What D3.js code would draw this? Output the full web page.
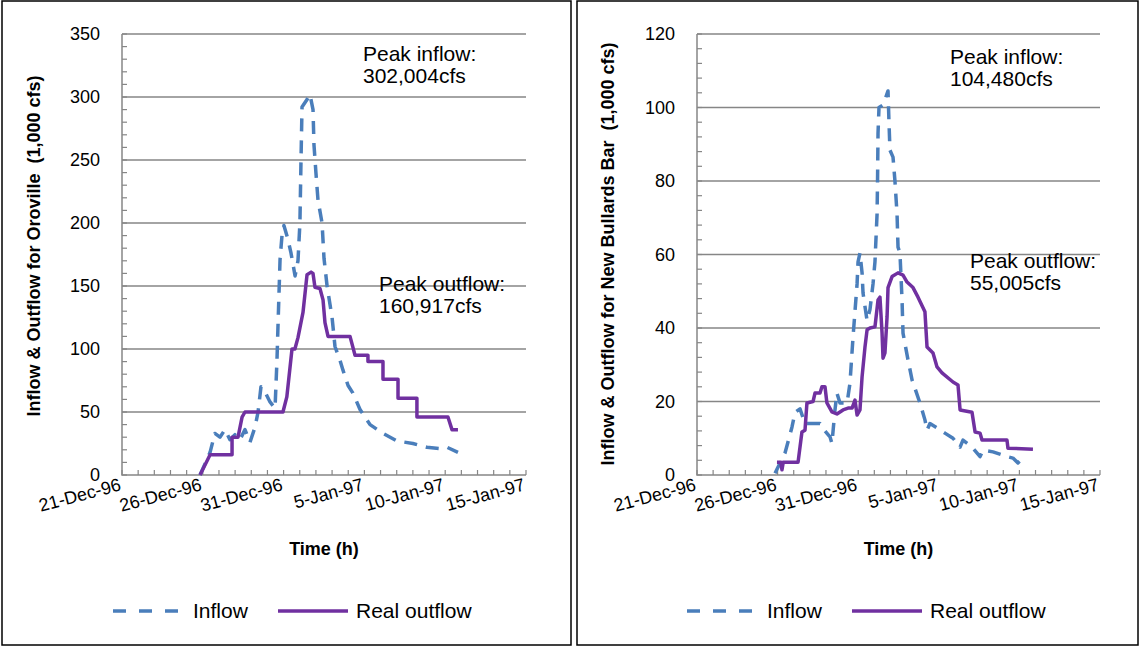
<!DOCTYPE html>
<html>
<head>
<meta charset="utf-8">
<script src="https://cdn.jsdelivr.net/npm/d3@7"></script>
<style>
body { margin: 0; background: #fff; }
svg { display: block; font-family: "Liberation Sans", Arial, sans-serif; }
</style>
</head>
<body>
<div id="chart"></div>
<script>
// x tick labels, every 5 days from 21-Dec-96
var xTickLabels = ["21-Dec-96", "26-Dec-96", "31-Dec-96", "5-Jan-97", "10-Jan-97", "15-Jan-97"];
var legendLabels = ["Inflow", "Real outflow"];

// Oroville: time in days after 21-Dec-96 00:00, flow in 1,000 cfs
var oroInflowDay = [4.83, 5.45, 5.75, 6.06, 6.37, 6.68, 6.99, 7.30, 7.61, 7.92, 8.23, 8.42, 8.6, 8.85, 9.16, 9.47, 9.59, 9.65, 9.78, 9.9, 10.02,
    10.27, 10.46, 10.71, 10.89, 11.01, 11.08, 11.14, 11.45, 11.63, 11.82, 11.88, 12.0, 12.13, 12.38, 12.5, 12.69, 13.0, 13.18, 13.49,
    13.68, 13.99, 14.29, 14.73, 15.35, 16.15, 17.02, 18.0, 18.87, 19.68, 20.11, 20.79];
var oroInflowVal = [0, 18, 33, 30, 36, 28, 32, 28, 36, 26, 38, 50, 70, 66, 58, 53, 91, 117, 171, 190, 198,
    187, 176, 158, 170, 200, 252, 292, 298, 302, 290, 262, 240, 218, 200, 172, 150, 125, 102, 91,
    83, 71, 65, 52, 40, 33, 27, 25, 22, 21, 22, 18];
var oroOutflowDay = [4.83, 5.45, 6.81, 6.81, 7.18, 7.43, 7.61, 9.96, 10.2, 10.52, 10.7, 10.89, 11.2, 11.45, 11.7, 11.82, 11.94, 12.25,
    12.44, 12.56, 12.75, 14.11, 14.42, 15.22, 15.22, 16.15, 16.15, 17.08, 17.08, 18.25, 18.25, 20.17, 20.42, 20.79];
var oroOutflowVal = [0, 16, 16, 30, 30, 46, 50, 50, 62, 100, 100, 109, 129, 159, 161, 160, 149, 148,
    139, 121, 110, 110, 95, 95, 90, 90, 76, 76, 61, 61, 46, 46, 36, 36];

// New Bullards Bar: time in days after 21-Dec-96 00:00, flow in 1,000 cfs
var nbbInflowDay = [4.84, 5.46, 5.89, 6.08, 6.39, 6.7, 7.2, 7.63, 7.94, 8.25, 8.37, 8.56, 8.68, 8.87, 9.31, 9.49, 9.68, 9.93, 9.99, 10.11,
    10.24, 10.3, 10.55, 10.73, 10.92, 11.04, 11.17, 11.2, 11.23, 11.29, 11.54, 11.85, 11.91, 11.97, 12.16, 12.28, 12.41, 12.47, 12.59,
    12.72, 12.78, 13.09, 13.34, 13.83, 14.14, 14.27, 14.45, 14.89, 15.38, 15.88, 16.32, 16.5, 17.06, 17.56, 17.74, 18.36, 19.23,
    19.6, 19.91, 20.22, 20.47];
var nbbInflowVal = [0.5, 6, 13, 17, 18, 14, 14, 14, 12, 10.4, 8.6, 17.7, 22.3, 19.6, 19.6, 25, 37.6, 52, 58, 60.4,
    55, 49.5, 42, 45, 52, 58, 71, 80, 93, 100, 100.7, 104.5, 96, 88.4, 86.5, 80, 71, 62, 60.4,
    47.6, 38.6, 31.3, 25.9, 19.6, 15, 12.2, 14, 12.8, 11.4, 10, 7.6, 9.5, 7.6, 5, 6.8, 6.3, 5,
    4.6, 3.3, 4.6, 4.6];
var nbbOutflowDay = [4.96, 5.2, 5.27, 5.35, 6.27, 6.39, 6.51, 6.7, 6.82, 7.2, 7.32, 7.63, 7.75, 7.94, 8.06, 8.37, 8.68, 9.06, 9.37, 9.62,
    9.8, 9.93, 10.11, 10.24, 10.42, 10.55, 10.73, 11.04, 11.23, 11.35, 11.48, 11.54, 11.66, 11.79, 11.85, 12.1, 12.47, 12.78,
    13.03, 13.4, 13.71, 14.14, 14.27, 14.64, 14.89, 15.2, 15.88, 16.19, 16.32, 17.06, 17.25, 17.56, 17.68, 19.23, 19.29, 20.84];
var nbbOutflowVal = [3.5, 3.5, 1.4, 3.5, 3.5, 7.6, 11.7, 12.2, 19.6, 20, 22.3, 22.3, 24, 24, 19.6, 17.2, 16.6, 17.7, 18.2, 18.2,
    20.4, 16.3, 17.7, 26.7, 34.8, 39.5, 40, 40.3, 47.6, 48.4, 38.6, 31.8, 33.2, 43, 51, 54, 55, 54.4,
    52.5, 51, 48.4, 44.4, 34.8, 33.2, 29.4, 27.8, 25.3, 24.5, 17.7, 17.1, 11.7, 11.4, 9.5, 9.5, 7.3, 7];

var oroNotes = [["Peak inflow:", "302,004cfs"], ["Peak outflow:", "160,917cfs"]];
var nbbNotes = [["Peak inflow:", "104,480cfs"], ["Peak outflow:", "55,005cfs"]];

var W = 1140, H = 647;
var baseDate = new Date(1996, 11, 21);
var inflowColor = "#4a7ebb", outflowColor = "#7030a0", axisColor = "#868686";

function toPoints(days, vals) {
    return days.map(function(d, i) {
        return { t: new Date(baseDate.getTime() + d * 864e5), v: vals[i] };
    });
}

var svg = d3.select("#chart").append("svg")
    .attr("width", W)
    .attr("height", H);

svg.append("rect").attr("width", W).attr("height", H).attr("fill", "#fff");

function drawPanel(cfg) {
    var g = svg.append("g");

    // frame
    g.append("rect")
        .attr("x", cfg.frame[0]).attr("y", cfg.frame[1])
        .attr("width", cfg.frame[2]).attr("height", cfg.frame[3])
        .attr("fill", "none").attr("stroke", "#000").attr("stroke-width", 1.5);

    var x = d3.scaleTime()
        .domain([baseDate, new Date(1997, 0, 15)])
        .range([cfg.left, cfg.right]);
    var y = d3.scaleLinear()
        .domain([0, cfg.yMax])
        .range([cfg.bottom, cfg.top]);

    var majors = d3.range(0, cfg.yMax + 0.001, cfg.yStep);
    var minors = d3.range(0, cfg.yMax + 0.001, cfg.yMinor);

    // gridlines
    g.selectAll("line.grid").data(majors.slice(1)).enter()
        .append("line")
        .attr("class", "grid")
        .attr("x1", cfg.left).attr("x2", cfg.right)
        .attr("y1", function(d) { return y(d); })
        .attr("y2", function(d) { return y(d); })
        .attr("stroke", axisColor).attr("stroke-width", 1.4);

    // y minor ticks (inside)
    g.selectAll("line.ytick").data(minors).enter()
        .append("line")
        .attr("x1", cfg.left).attr("x2", cfg.left + 5)
        .attr("y1", function(d) { return y(d); })
        .attr("y2", function(d) { return y(d); })
        .attr("stroke", axisColor).attr("stroke-width", 1.2);

    // x daily ticks (inside)
    var days = d3.timeDay.range(baseDate, new Date(1997, 0, 16));
    g.selectAll("line.xtick").data(days).enter()
        .append("line")
        .attr("x1", function(d) { return x(d); })
        .attr("x2", function(d) { return x(d); })
        .attr("y1", cfg.bottom).attr("y2", cfg.bottom - 5)
        .attr("stroke", axisColor).attr("stroke-width", 1.2);

    // axis lines
    g.append("path")
        .attr("d", "M" + cfg.left + "," + cfg.top + "V" + cfg.bottom + "H" + cfg.right)
        .attr("fill", "none").attr("stroke", axisColor).attr("stroke-width", 1.5);

    // y tick labels
    g.selectAll("text.ylab").data(majors).enter()
        .append("text")
        .attr("x", cfg.left - 22)
        .attr("y", function(d) { return y(d); })
        .attr("dy", "0.35em")
        .attr("text-anchor", "end")
        .style("font-size", "18px")
        .text(function(d) { return d; });

    // x tick labels, rotated
    g.selectAll("text.xlab").data(xTickLabels).enter()
        .append("text")
        .attr("transform", function(d, i) {
            return "translate(" + x(d3.timeDay.offset(baseDate, i * 5)) + "," + (cfg.bottom + 15) + ") rotate(-15)";
        })
        .attr("text-anchor", "end")
        .style("font-size", "18px")
        .text(function(d) { return d; });

    // axis titles
    g.append("text")
        .attr("transform", "translate(" + cfg.titleX + "," + cfg.titleY + ") rotate(-90)")
        .attr("text-anchor", "middle")
        .style("font-size", "18px").style("font-weight", "bold").style("white-space", "pre")
        .text(cfg.title);
    g.append("text")
        .attr("x", (cfg.left + cfg.right) / 2)
        .attr("y", cfg.bottom + 80)
        .attr("text-anchor", "middle")
        .style("font-size", "18px").style("font-weight", "bold")
        .text("Time (h)");

    var line = d3.line()
        .x(function(d) { return x(d.t); })
        .y(function(d) { return y(d.v); });

    g.append("path")
        .datum(toPoints(cfg.inDay, cfg.inVal))
        .attr("d", line)
        .attr("fill", "none").attr("stroke", inflowColor)
        .attr("stroke-width", 3.5).attr("stroke-dasharray", "13,9")
        .attr("stroke-linejoin", "round");
    g.append("path")
        .datum(toPoints(cfg.outDay, cfg.outVal))
        .attr("d", line)
        .attr("fill", "none").attr("stroke", outflowColor)
        .attr("stroke-width", 3.5)
        .attr("stroke-linejoin", "round");

    // annotations
    cfg.notes.forEach(function(n, i) {
        var t = g.append("text")
            .attr("x", cfg.notePos[i][0])
            .attr("y", cfg.notePos[i][1])
            .style("font-size", "21px");
        t.append("tspan").text(n[0]);
        t.append("tspan").attr("x", cfg.notePos[i][0]).attr("dy", 22).text(n[1]);
    });

    // legend
    var ly = 611;
    var lx = cfg.legendX;
    g.append("line")
        .attr("x1", lx).attr("x2", lx + 70).attr("y1", ly).attr("y2", ly)
        .attr("stroke", inflowColor).attr("stroke-width", 3.5).attr("stroke-dasharray", "13,13");
    g.append("text").attr("x", lx + 80).attr("y", ly).attr("dy", "0.35em")
        .style("font-size", "21px").text(legendLabels[0]);
    g.append("line")
        .attr("x1", lx + 165).attr("x2", lx + 235).attr("y1", ly).attr("y2", ly)
        .attr("stroke", outflowColor).attr("stroke-width", 3.5);
    g.append("text").attr("x", lx + 243).attr("y", ly).attr("dy", "0.35em")
        .style("font-size", "21px").text(legendLabels[1]);
}

drawPanel({
    frame: [2, 1, 569, 644],
    left: 122, right: 526, top: 34, bottom: 475,
    yMax: 350, yStep: 50, yMinor: 10,
    titleX: 40, titleY: 246,
    title: "Inflow & Outflow for Oroville  (1,000 cfs)",
    inDay: oroInflowDay, inVal: oroInflowVal,
    outDay: oroOutflowDay, outVal: oroOutflowVal,
    notes: oroNotes,
    notePos: [[363, 61], [379, 291]],
    legendX: 113
});

drawPanel({
    frame: [577, 1, 561, 644],
    left: 697, right: 1100, top: 34, bottom: 475,
    yMax: 120, yStep: 20, yMinor: 4,
    titleX: 614, titleY: 254,
    title: "Inflow & Outflow for New Bullards Bar  (1,000 cfs)",
    inDay: nbbInflowDay, inVal: nbbInflowVal,
    outDay: nbbOutflowDay, outVal: nbbOutflowVal,
    notes: nbbNotes,
    notePos: [[950, 64], [970, 268]],
    legendX: 687
});
</script>
</body>
</html>
